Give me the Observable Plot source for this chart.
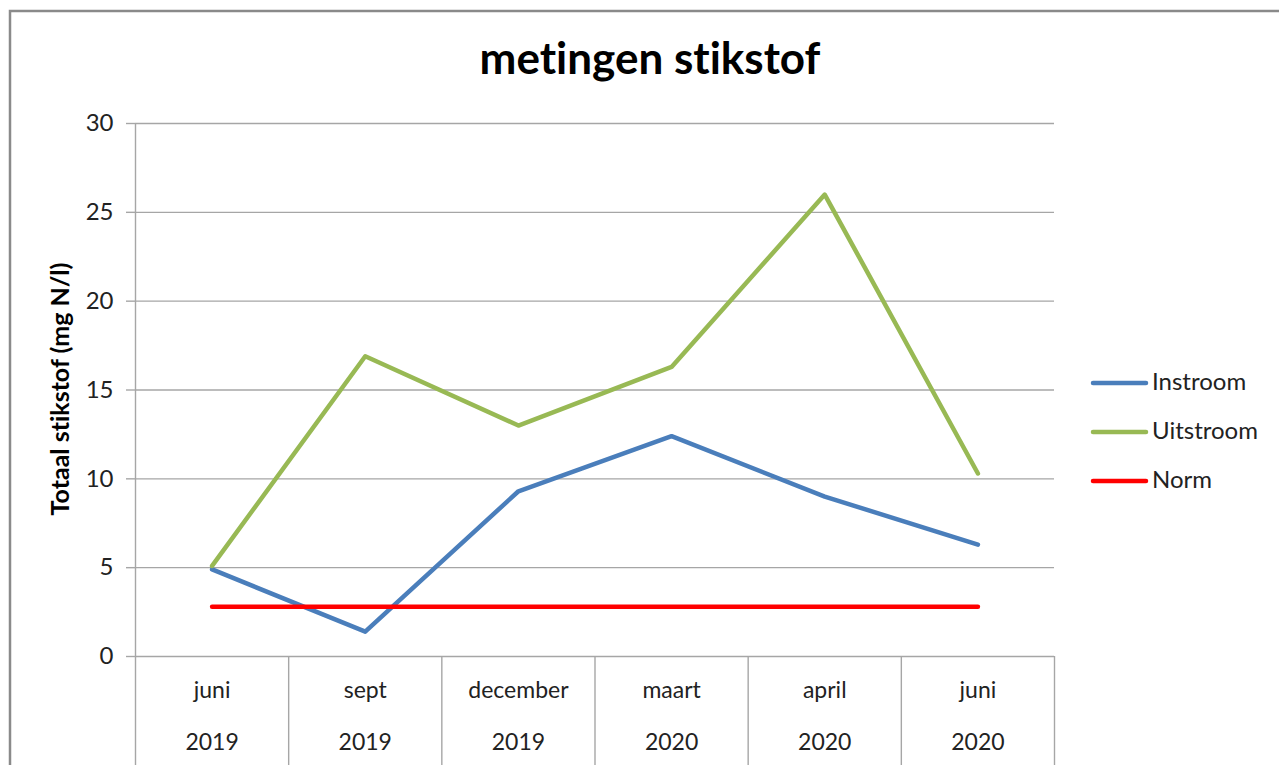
<!DOCTYPE html>
<html><head><meta charset="utf-8">
<script src="https://cdn.jsdelivr.net/npm/d3@7"></script>
<script src="https://cdn.jsdelivr.net/npm/@observablehq/plot@0.6"></script>
<style>html,body{margin:0;padding:0;background:#fff;overflow:hidden}#chart svg{display:block}svg text{font-variant-ligatures:none}</style>
</head><body><div id="chart"></div>
<script>
const months = ["juni", "sept", "december", "maart", "april", "juni"];
const years = ["2019", "2019", "2019", "2020", "2020", "2020"];
const instroom = [4.9, 1.4, 9.3, 12.4, 9.0, 6.3];
const uitstroom = [5.1, 16.9, 13.0, 16.3, 26.0, 10.3];
const norm = [2.8, 2.8, 2.8, 2.8, 2.8, 2.8];
const seriesNames = ["Instroom", "Uitstroom", "Norm"];
const seriesColors = ["#4a7ebb", "#98b954", "#ff0000"];
const yTicks = [0, 5, 10, 15, 20, 25, 30];
const title = "metingen stikstof";
const yLabel = "Totaal stikstof (mg N/l)";

const idx = months.map((_, i) => i);
const rows = [];
[instroom, uitstroom, norm].forEach((vals, s) =>
  vals.forEach((v, i) => rows.push({series: seriesNames[s], i, v})));
const bounds = d3.range(months.length + 1).map(i => i - 0.5);
const font = "Lato, 'Open Sans', sans-serif";
const grid = "#a6a6a6";

const chart = Plot.plot({
  width: 1279, height: 765,
  marginLeft: 135, marginRight: 225, marginTop: 123, marginBottom: 109,
  style: {fontFamily: font, background: "white", color: "#222"},
  x: {domain: [-0.5, months.length - 0.5], axis: null},
  y: {domain: [0, 30], axis: null},
  color: {domain: seriesNames, range: seriesColors},
  marks: [
    Plot.ruleY(yTicks, {stroke: grid, strokeWidth: 1.4}),
    Plot.axisY({ticks: yTicks, tickSize: 9, tickPadding: 13, fontSize: 24, stroke: grid, strokeWidth: 1.4, label: null, fill: "#222"}),
    Plot.ruleX(bounds, {x: d => d, y1: d => d === -0.5 ? 30 : 0, y2: -6.3, stroke: grid, strokeWidth: 1.4}),
    Plot.text(idx, {x: d => d, frameAnchor: "bottom", dy: 41, text: i => months[i], fontSize: 23, fill: "#222"}),
    Plot.text(idx, {x: d => d, frameAnchor: "bottom", dy: 93, text: i => years[i], fontSize: 23, fill: "#222"}),
    Plot.line(rows, {x: "i", y: "v", z: "series", stroke: "series", strokeWidth: 4.5})
  ]
});
document.getElementById("chart").appendChild(chart);

const svg = d3.select(chart);
svg.append("path").attr("d", "M10,765V11H1279").attr("fill", "none").attr("stroke", "#8a8a8a").attr("stroke-width", 2.5);
svg.append("text").text(title).attr("x", 650).attr("y", 63).attr("text-anchor", "middle")
  .attr("dominant-baseline", "middle").attr("font-size", 44).attr("font-weight", "bold").attr("fill", "#000");
svg.append("text").text(yLabel).attr("transform", "translate(63,389) rotate(-90)").attr("text-anchor", "middle")
  .attr("dominant-baseline", "middle").attr("font-size", 25).attr("font-weight", "bold").attr("fill", "#000");
const lg = svg.append("g");
seriesNames.forEach((name, k) => {
  const y = 383 + 49 * k;
  lg.append("line").attr("x1", 1093).attr("x2", 1146).attr("y1", y).attr("y2", y)
    .attr("stroke", seriesColors[k]).attr("stroke-width", 4.5).attr("stroke-linecap", "round");
  lg.append("text").text(name).attr("x", 1152).attr("y", y + 1).attr("dominant-baseline", "middle")
    .attr("text-anchor", "start").attr("font-size", 24).attr("fill", "#222");
});
</script></body></html>
